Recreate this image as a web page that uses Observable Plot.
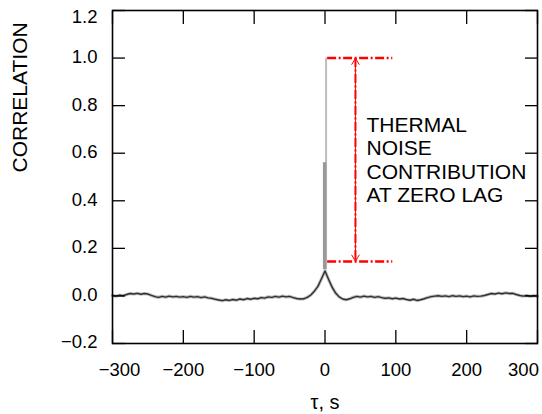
<!DOCTYPE html>
<html><head><meta charset="utf-8">
<script src="https://cdn.jsdelivr.net/npm/d3@7"></script>
<script src="https://cdn.jsdelivr.net/npm/@observablehq/plot@0.6"></script>
<style>body{margin:0;background:#fff} svg{display:block}</style>
</head><body><div id="chart"></div>
<script>
// Lag grid (s) and correlation values
const lagStart = -300, lagStep = 5;
const correlation = [
  0.002,-0.001,0.003,0.001,0.006,0.010,0.008,0.011,0.007,0.010,
  0.008,0.002,-0.003,-0.006,-0.002,-0.005,-0.001,-0.004,-0.002,-0.005,
  -0.003,-0.006,-0.002,-0.005,-0.003,-0.007,-0.004,-0.008,-0.010,-0.014,
  -0.017,-0.020,-0.016,-0.019,-0.015,-0.018,-0.013,-0.016,-0.011,-0.014,
  -0.010,-0.012,-0.007,-0.009,-0.004,-0.006,-0.002,-0.005,-0.001,-0.004,
  -0.002,-0.007,-0.011,-0.013,-0.012,-0.006,0.004,0.020,0.040,0.072,
  0.105,
  0.070,0.037,0.012,-0.004,-0.013,-0.016,-0.012,-0.006,-0.002,-0.005,
  -0.001,-0.004,-0.002,-0.006,-0.003,-0.007,-0.010,-0.008,-0.012,-0.009,
  -0.013,-0.011,-0.015,-0.018,-0.014,-0.019,-0.016,-0.012,-0.007,-0.003,
  -0.001,0.001,-0.002,0.000,-0.003,0.001,-0.002,0.000,-0.003,-0.001,
  -0.004,0.000,-0.002,-0.001,0.002,0.006,0.010,0.008,0.012,0.009,
  0.013,0.010,0.011,0.006,0.002,-0.001,0.002,-0.002,0.001,-0.001
];
const series = correlation.map((v, i) => ({tau: lagStart + i * lagStep, v}));

// zero-lag spike (thermal noise)
const spikeTau = [-0.5, 1.5];
const spikeBase = [0.11, 0.11];
const spikeTop = [0.56, 1.0];

// annotation
const thermalLevels = [1.0, 0.145];
const bracketTau = [3, 95];
const arrowTau = 43;
const noteLines = ["THERMAL", "NOISE", "CONTRIBUTION", "AT ZERO LAG"];
const noteTau = 58.6, noteLevel = 0.574;

// axes
const xTicks = [-300, -200, -100, 0, 100, 200, 300];
const yTicks = [-0.2, 0, 0.2, 0.4, 0.6, 0.8, 1.0, 1.2];
const xLabel = "τ, s";
const yLabel = "CORRELATION";

const red = "#f00";
const dashDot = "9,2.5,2,2.5";
const mid = (thermalLevels[0] + thermalLevels[1]) / 2;

const chart = Plot.plot({
  width: 542, height: 414,
  marginLeft: 112, marginRight: 5, marginTop: 10, marginBottom: 71,
  x: {domain: [-300, 300], label: null},
  y: {domain: [-0.2, 1.2], label: null},
  style: {fontFamily: "'Liberation Sans', Arial, sans-serif", fontSize: "18px", color: "#000", background: "#fff"},
  marks: [
    // spike
    Plot.ruleX([0], {x: () => spikeTau[1], y1: () => spikeBase[1], y2: () => spikeTop[1], stroke: "#bdbdbd", strokeWidth: 2}),
    Plot.ruleX([0], {x: () => spikeTau[0], y1: () => spikeBase[0], y2: () => spikeTop[0], stroke: "#999", strokeWidth: 3.5}),
    // correlation curve
    Plot.line(series, {x: "tau", y: "v", stroke: "#bdbdbd", strokeWidth: 3.2}),
    Plot.line(series, {x: "tau", y: "v", stroke: "#303030", strokeWidth: 1.4}),
    // annotation
    Plot.link(thermalLevels, {x1: () => bracketTau[0], x2: () => bracketTau[1], y1: d => d, y2: d => d, stroke: red, strokeWidth: 2.5, strokeDasharray: dashDot}),
    Plot.link([0], {x1: () => arrowTau, x2: () => arrowTau, y1: () => thermalLevels[0], y2: () => thermalLevels[1], stroke: red, strokeWidth: 2, strokeDasharray: dashDot}),
    Plot.arrow(thermalLevels, {x1: () => arrowTau, x2: () => arrowTau, y1: () => mid, y2: d => d, stroke: red, strokeWidth: 1, headLength: 11, headAngle: 60}),
    Plot.text([noteLines.join("\n")], {x: () => noteTau, y: () => noteLevel, text: d => d, textAnchor: "start", lineAnchor: "middle", fontSize: 21, lineHeight: 1.12}),
    // frame and inward ticks
    Plot.frame({stroke: "#000", strokeWidth: 1.6}),
    Plot.axisX(xTicks, {anchor: "bottom", tickSize: -13, fill: "none", strokeWidth: 1.3, label: null}),
    Plot.axisX(xTicks, {anchor: "top", tickSize: -13, fill: "none", strokeWidth: 1.3, label: null}),
    Plot.axisY(yTicks, {anchor: "left", tickSize: -13, fill: "none", strokeWidth: 1.3, label: null}),
    Plot.axisY(yTicks, {anchor: "right", tickSize: -13, fill: "none", strokeWidth: 1.3, label: null}),
    // tick labels
    Plot.axisX(xTicks.slice(1, -1), {anchor: "bottom", tickSize: 0, tickPadding: 19, fontSize: 18.5, label: null}),
    Plot.axisX(xTicks.slice(0, 1), {anchor: "bottom", tickSize: 0, tickPadding: 19, fontSize: 18.5, dx: 7, label: null}),
    Plot.axisX(xTicks.slice(-1), {anchor: "bottom", tickSize: 0, tickPadding: 19, fontSize: 18.5, dx: -14, label: null}),
    Plot.axisY(yTicks.slice(0, -1), {anchor: "left", tickSize: 0, tickPadding: 15, fontSize: 18.5, tickFormat: ".1f", dy: -1, label: null}),
    Plot.axisY(yTicks.slice(-1), {anchor: "left", tickSize: 0, tickPadding: 15, fontSize: 18.5, tickFormat: ".1f", dy: 7, label: null}),
    // axis titles
    Plot.text([yLabel], {frameAnchor: "left", rotate: -90, dx: -92, dy: -4.5, fontSize: 21}),
    Plot.text([xLabel], {frameAnchor: "bottom", dy: 65, fontSize: 20})
  ]
});
document.getElementById("chart").append(chart);
</script>
</body></html>
